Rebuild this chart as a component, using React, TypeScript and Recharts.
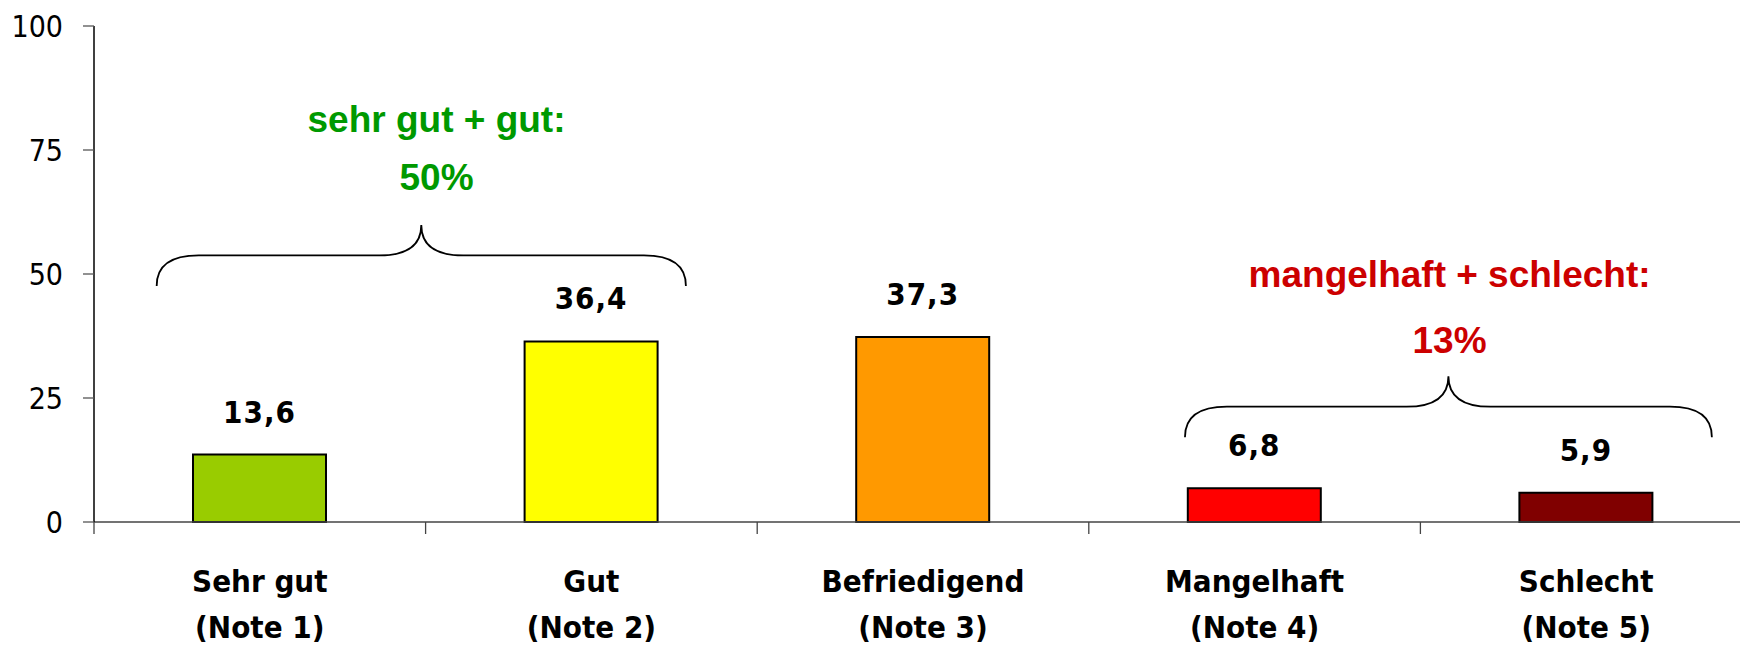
import React from 'react';
import {
  BarChart,
  Bar,
  XAxis,
  YAxis,
  Cell,
  LabelList,
  ReferenceArea,
  ReferenceDot,
} from 'recharts';

// grades and shares (percent)
const categories = ['Sehr gut', 'Gut', 'Befriedigend', 'Mangelhaft', 'Schlecht'];
const notes = ['(Note 1)', '(Note 2)', '(Note 3)', '(Note 4)', '(Note 5)'];
const values = [13.6, 36.4, 37.3, 6.8, 5.9];
const barColors = ['#99CC00', '#FFFF00', '#FF9900', '#FF0000', '#800000'];

const yTicks = [0, 25, 50, 75, 100];
// position axis in "band units": integers = band edges, halves = band centres
const xTicks = [0, 0.5, 1, 1.5, 2, 2.5, 3, 3.5, 4, 4.5, 5];

// summary brackets (x in band units, y in percent)
const braceStart = [0.189, 3.29];
const braceEnd = [1.785, 4.879];
const braceBottom = [47.6, 17.1];
const braceTop = [59.9, 29.4];

const groupLabels = ['sehr gut + gut:', 'mangelhaft + schlecht:'];
const groupShares = ['50%', '13%'];
const groupCenters = [1.033, 4.088];
const groupLabelY = [78.6, 47.4];
const groupShareY = [66.9, 34.1];
const groupColors = ['#009900', '#CC0000'];

const data = categories.map((name, i) => ({ name, value: values[i], slot: i + 0.5 }));

const condensed = "'DejaVu Sans Condensed', 'DejaVu Sans', sans-serif";
const arial = "'Liberation Sans', Arial, sans-serif";

const fmt = (v: any) => Number(v).toFixed(1).replace('.', ',');

const XTick = (props: any) => {
  const { x, y, payload } = props;
  const v = payload.value;
  if (Number.isInteger(v)) {
    return <line x1={x} x2={x} y1={y} y2={y + 12} stroke="#444" strokeWidth={1.3} />;
  }
  const i = Math.floor(v);
  return (
    <text
      textAnchor="middle"
      fontFamily={condensed}
      fontWeight="bold"
      fontSize={31}
      fill="#000"
    >
      <tspan x={x} y={y + 70}>{categories[i]}</tspan>
      <tspan x={x} y={y + 116}>{notes[i]}</tspan>
    </text>
  );
};

const Brace = (props: any) => {
  const { x, y, width, height } = props;
  const r = 42;
  const mid = y + height / 2;
  const bot = y + height;
  const cx = x + width / 2;
  const d =
    `M${x},${bot} Q${x},${mid} ${x + r},${mid} L${cx - r},${mid} Q${cx},${mid} ${cx},${y} ` +
    `Q${cx},${mid} ${cx + r},${mid} L${x + width - r},${mid} Q${x + width},${mid} ${x + width},${bot}`;
  return <path d={d} fill="none" stroke="#000" strokeWidth={1.8} />;
};

const groupText = (text: string, color: string) => (p: any) => (
  <text
    x={p.cx}
    y={p.cy}
    textAnchor="middle"
    fontFamily={arial}
    fontWeight="bold"
    fontSize={37}
    fill={color}
  >
    {text}
  </text>
);

export default function App() {
  return (
    <div
      style={{
        position: 'absolute',
        left: 0,
        top: 0,
        width: 1740,
        height: 649,
        overflow: 'hidden',
        background: '#fff',
      }}
    >
      <BarChart
        width={1760}
        height={649}
        data={data}
        margin={{ top: 26, right: 8, bottom: 0, left: 0 }}
      >
        <XAxis
          xAxisId="n"
          dataKey="slot"
          type="number"
          scale="linear"
          domain={[0, 5]}
          allowDataOverflow
          ticks={xTicks}
          interval={0}
          height={127}
          tickSize={0}
          tickMargin={0}
          tickLine={false}
          axisLine={{ stroke: '#444', strokeWidth: 1.5 }}
          tick={<XTick />}
        />
        <XAxis xAxisId="cat" dataKey="name" hide height={0} />
        <YAxis
          domain={[0, 100]}
          ticks={yTicks}
          width={94}
          tickSize={11}
          tickMargin={20}
          axisLine={{ stroke: '#000', strokeWidth: 1.5 }}
          tickLine={{ stroke: '#555', strokeWidth: 1.3 }}
          tick={{ fill: '#000', fontSize: 30, fontFamily: condensed }}
        />
        {braceStart.map((x1, i) => (
          <ReferenceArea
            key={`brace-${i}`}
            xAxisId="n"
            x1={x1}
            x2={braceEnd[i]}
            y1={braceBottom[i]}
            y2={braceTop[i]}
            shape={<Brace />}
          />
        ))}
        {groupLabels.map((t, i) => (
          <ReferenceDot
            key={`gl-${i}`}
            xAxisId="n"
            x={groupCenters[i]}
            y={groupLabelY[i]}
            r={0}
            shape={groupText(t, groupColors[i])}
          />
        ))}
        {groupShares.map((t, i) => (
          <ReferenceDot
            key={`gs-${i}`}
            xAxisId="n"
            x={groupCenters[i]}
            y={groupShareY[i]}
            r={0}
            shape={groupText(t, groupColors[i])}
          />
        ))}
        <Bar
          xAxisId="cat"
          dataKey="value"
          barSize={133}
          stroke="#000"
          strokeWidth={2}
          isAnimationActive={false}
        >
          {data.map((entry, index) => (
            <Cell key={`cell-${index}`} fill={barColors[index]} />
          ))}
          <LabelList
            dataKey="value"
            position="top"
            offset={32}
            formatter={fmt}
            style={{
              fontFamily: condensed,
              fontWeight: 'bold',
              fontSize: 31,
              letterSpacing: 1,
              fill: '#000',
            }}
          />
        </Bar>
      </BarChart>
    </div>
  );
}
